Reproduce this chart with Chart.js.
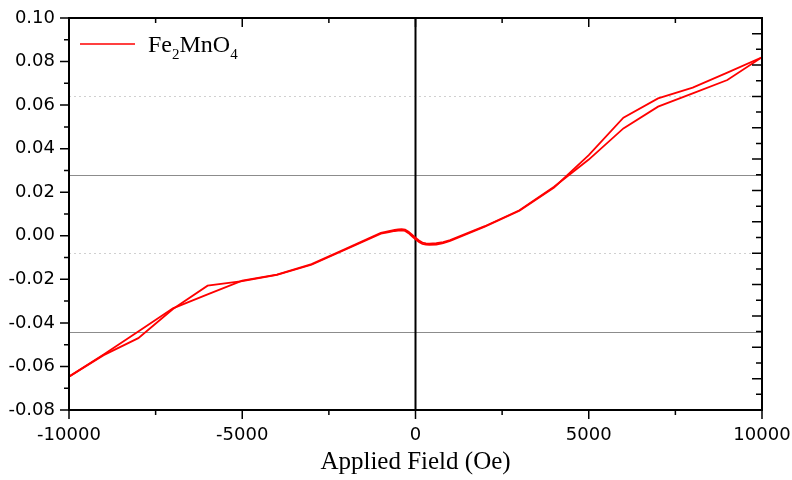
<!DOCTYPE html>
<html>
<head>
<meta charset="utf-8">
<script src="https://cdn.jsdelivr.net/npm/chart.js@4.4.0/dist/chart.umd.min.js"></script>
<style>
  html, body { margin: 0; padding: 0; background: #fff; }
  canvas { display: block; }
</style>
</head>
<body>
<canvas id="loopChart" width="792" height="480"></canvas>
<script>
// M-H loop of Fe2MnO4, field in Oe
const field = [-10000, -9000, -8000, -7000, -6000, -5000, -4000, -3000, -2000,
  -1000, -800, -600, -500, -400, -300, -200, -100, 0, 100, 200, 300, 400, 600, 800, 1000,
  2000, 3000, 4000, 5000, 6000, 7000, 8000, 9000, 10000];
const branchDown = [-0.0647, -0.0548, -0.0470, -0.0336, -0.0229, -0.0208, -0.0180, -0.0133, -0.0062,
  0.0010, 0.0016, 0.0022, 0.0024, 0.0025, 0.0022, 0.0012, -0.0002, -0.0016, -0.0029, -0.0037, -0.0041, -0.0042, -0.0040, -0.0034, -0.0024,
  0.0042, 0.0115, 0.0222, 0.0370, 0.0542, 0.0631, 0.0680, 0.0749, 0.0820];
const branchUp = [-0.0647, -0.0545, -0.0440, -0.0333, -0.0269, -0.0206, -0.0178, -0.0130, -0.0059,
  0.0013, 0.0020, 0.0027, 0.0029, 0.0030, 0.0028, 0.0019, 0.0005, -0.0009, -0.0022, -0.0031, -0.0035, -0.0036, -0.0034, -0.0029, -0.0020,
  0.0044, 0.0117, 0.0225, 0.0350, 0.0493, 0.0593, 0.0654, 0.0715, 0.0820];

const fieldTicks = [-10000, -5000, 0, 5000, 10000];
const momentTicks = [-0.08, -0.06, -0.04, -0.02, 0.00, 0.02, 0.04, 0.06, 0.08, 0.10];
// levels on the unlabeled right-hand scale (0..25)
const rightGridLevels = [5, 10, 15, 20];

const RED = '#ff0000';

function points(ys) {
  return field.map((f, i) => ({ x: f, y: ys[i] }));
}

const framePlugin = {
  id: 'frame',
  beforeDatasetsDraw(chart) {
    const { ctx, chartArea: a, scales: { x, y2 } } = chart;
    ctx.save();
    rightGridLevels.forEach((lv, i) => {
      const py = Math.round(y2.getPixelForValue(lv)) + 0.5;
      ctx.beginPath();
      if (i % 2 === 0) {
        ctx.strokeStyle = '#8c8c8c';
        ctx.lineWidth = 1;
        ctx.setLineDash([]);
      } else {
        ctx.strokeStyle = '#d0d0d0';
        ctx.lineWidth = 1.2;
        ctx.setLineDash([2, 3]);
      }
      ctx.moveTo(a.left, py);
      ctx.lineTo(a.right, py);
      ctx.stroke();
    });
    ctx.setLineDash([]);
    // vertical line at zero field
    const x0 = x.getPixelForValue(0);
    ctx.strokeStyle = '#000';
    ctx.lineWidth = 2;
    ctx.beginPath();
    ctx.moveTo(x0, a.top);
    ctx.lineTo(x0, a.bottom);
    ctx.stroke();
    ctx.restore();
  },
  afterDraw(chart) {
    const { ctx, chartArea: a, scales: { x, y, y2 } } = chart;
    ctx.save();
    ctx.strokeStyle = '#000';
    ctx.lineWidth = 1.5;
    ctx.beginPath();
    // left: outward, every 0.01
    for (let i = 0; i <= 18; i++) {
      const py = y.getPixelForValue(-0.08 + i * 0.01);
      const len = i % 2 === 0 ? 9 : 5;
      ctx.moveTo(a.left, py);
      ctx.lineTo(a.left - len, py);
    }
    // bottom outward, top inward, every 2500 Oe
    for (let i = 0; i <= 8; i++) {
      const px = x.getPixelForValue(-10000 + i * 2500);
      const len = i % 2 === 0 ? 9 : 5;
      ctx.moveTo(px, a.bottom);
      ctx.lineTo(px, a.bottom + len);
      ctx.moveTo(px, a.top);
      ctx.lineTo(px, a.top + len);
    }
    // right inward, one per unit of the right scale
    for (let k = 1; k < 25; k++) {
      const py = y2.getPixelForValue(k);
      const len = k % 2 === 0 ? 10 : 6;
      ctx.moveTo(a.right, py);
      ctx.lineTo(a.right - len, py);
    }
    ctx.stroke();

    ctx.lineWidth = 2;
    ctx.strokeRect(a.left, a.top, a.right - a.left, a.bottom - a.top);

    // legend
    ctx.strokeStyle = RED;
    ctx.lineWidth = 1.5;
    ctx.beginPath();
    ctx.moveTo(80, 44);
    ctx.lineTo(135, 44);
    ctx.stroke();
    ctx.fillStyle = '#000';
    ctx.textBaseline = 'alphabetic';
    const parts = [['Fe', false], ['2', true], ['MnO', false], ['4', true]];
    let tx = 148;
    parts.forEach(([t, sub]) => {
      ctx.font = sub ? '15px "Liberation Serif", serif' : '24px "Liberation Serif", serif';
      ctx.fillText(t, tx, sub ? 59 : 52);
      tx += ctx.measureText(t).width;
    });
    ctx.restore();
  }
};

const tickFont = { family: '"DejaVu Sans", sans-serif', size: 18 };

new Chart(document.getElementById('loopChart'), {
  type: 'scatter',
  data: {
    datasets: [
      { label: 'Fe2MnO4', data: points(branchDown), showLine: true, borderColor: RED, borderWidth: 1.8, pointRadius: 0, tension: 0 },
      { label: 'Fe2MnO4', data: points(branchUp), showLine: true, borderColor: RED, borderWidth: 1.8, pointRadius: 0, tension: 0 }
    ]
  },
  options: {
    responsive: false,
    animation: false,
    devicePixelRatio: 1,
    layout: { padding: { top: 18, left: 0, right: 0, bottom: 0 } },
    plugins: { legend: { display: false }, tooltip: { enabled: false } },
    scales: {
      x: {
        type: 'linear',
        min: -10000,
        max: 10000,
        afterBuildTicks: s => { s.ticks = fieldTicks.map(v => ({ value: v })); },
        afterFit: s => { s.height = 70; s.paddingLeft = 0; s.paddingRight = 0; },
        grid: { display: false, drawTicks: false },
        border: { display: false },
        ticks: { color: '#000', font: tickFont, padding: 15, maxRotation: 0, callback: v => String(v) },
        title: {
          display: true,
          text: 'Applied Field (Oe)',
          color: '#000',
          font: { family: '"Liberation Serif", serif', size: 25 },
          padding: { top: 4, bottom: 3 }
        }
      },
      y: {
        position: 'left',
        min: -0.08,
        max: 0.10,
        afterBuildTicks: s => { s.ticks = momentTicks.map(v => ({ value: v })); },
        afterFit: s => { s.width = 69; s.paddingTop = 0; s.paddingBottom = 0; },
        grid: { display: false, drawTicks: false },
        border: { display: false },
        ticks: {
          color: '#000',
          font: tickFont,
          padding: 14,
          callback: v => (Math.abs(v) < 1e-9 ? 0 : v).toFixed(2)
        }
      },
      y2: {
        position: 'right',
        min: 0,
        max: 25,
        afterFit: s => { s.width = 30; s.paddingTop = 0; s.paddingBottom = 0; },
        grid: { display: false, drawTicks: false },
        border: { display: false },
        ticks: { display: false }
      }
    }
  },
  plugins: [framePlugin]
});
</script>
</body>
</html>
